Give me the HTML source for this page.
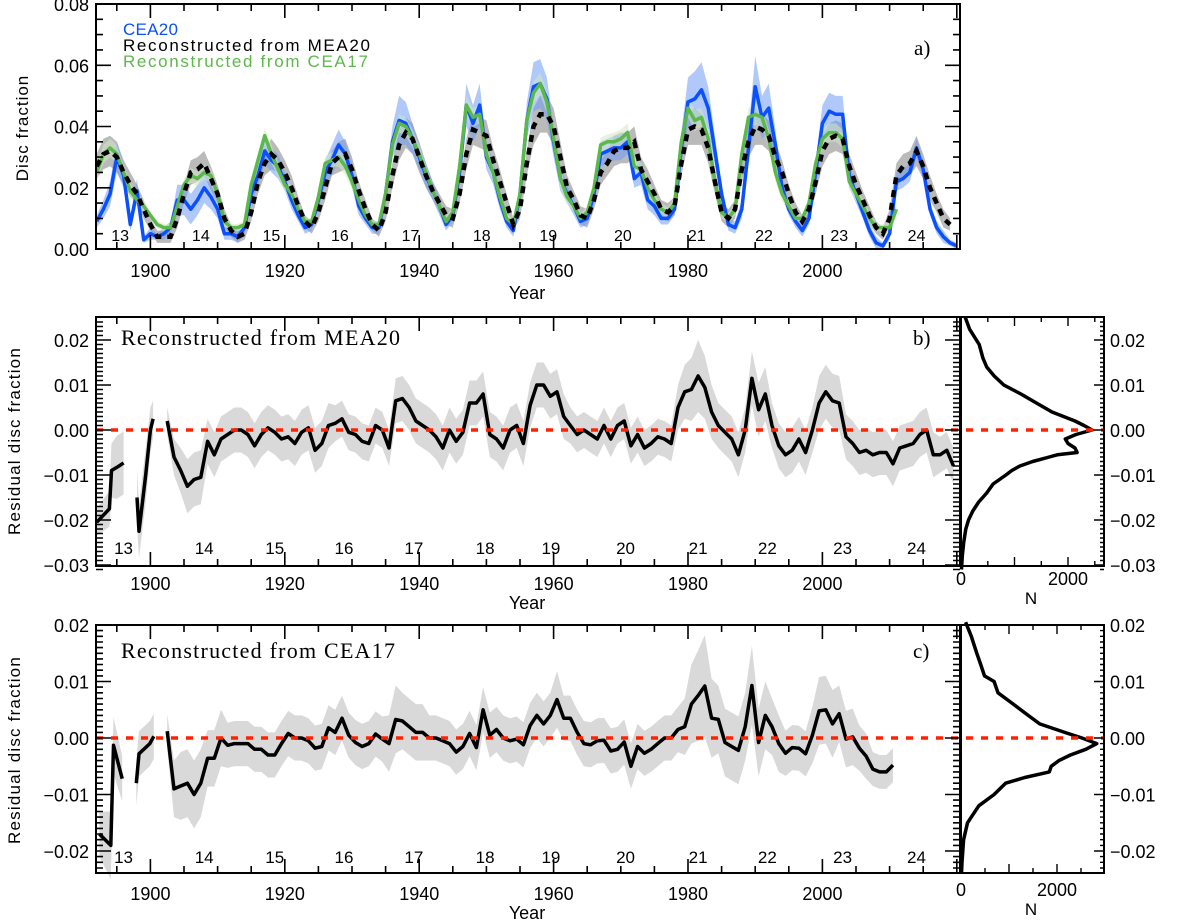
<!DOCTYPE html>
<html><head><meta charset="utf-8"><title>Disc fraction reconstruction</title>
<style>
html,body{margin:0;padding:0;background:#fff;}
svg{display:block;font-family:"Liberation Sans",sans-serif;}
.ser{font-family:"Liberation Serif",serif;}
</style></head>
<body>
<svg id="fig" width="1200" height="922" viewBox="0 0 1200 922" xmlns="http://www.w3.org/2000/svg"></svg>
<script>
// ---------- Panel a data (units of 1e-3 disc fraction) ----------
const aStartYear = 1892;
const cea20 = [9,13,18,30,24,8,19,3,5,4, 5,7,16,16,13,16,20,17,13,5, 5,4,7,18,24,32,29,27,22,16, 11,7,8,16,25,29,34,31,24,14,
 10,7,7,18,35,42,41,36,30,24, 19,14,8,11,25,47,41,47,30,25, 16,9,6,18,42,53,54,49,35,23, 18,14,9,10,18,31,32,33,33,35,
 23,25,16,14,10,10,13,33,48,49, 52,46,32,18,8,7,13,33,53,43, 46,34,20,13,9,6,10,25,41,45, 44,44,24,18,12,6,2,1,5,22, 23,25,33,26,13,7,4,2,1];
const cea20Err = [2,3,4,5,4,2,4,1,2,1, 2,2,5,5,5,5,5,4,3,2, 2,2,2,3,4,4,4,4,3,3, 2,2,2,3,4,5,5,4,4,3,
 2,2,2,3,5,8,7,5,4,4, 3,3,2,2,4,7,6,7,4,4, 3,2,2,3,6,8,8,7,5,4, 3,3,2,2,3,4,4,4,4,4,
 3,4,3,3,2,2,2,5,8,9, 9,7,5,3,2,2,3,6,10,7, 8,5,3,2,2,2,2,4,6,6, 6,6,4,3,2,2,2,1,2,3, 3,3,3,3,2,2,2,1,1];
const mea20 = [27,31,32,30,25,21,18,13,8,4, 4,4,10,18,25,26,28,23,18,10, 6,4,5,12,22,28,31,29,25,20, 14,9,7,12,20,28,30,31,26,19,
 13,8,6,12,24,34,38,36,30,24, 19,15,11,10,18,31,39,38,37,29, 22,15,8,13,28,40,44,44,40,30, 20,16,11,10,16,25,28,32,33,33,
 35,26,22,18,13,12,14,28,39,40, 39,33,22,12,10,13,26,35,40,39, 37,30,25,18,12,9,13,22,32,36, 37,36,27,21,16,11,7,5,10,24, 27,28,32,27,20,15,10,8];
const mea20Err = [4,5,5,5,4,4,3,3,2,2, 2,2,3,3,4,4,4,4,3,3, 2,2,2,3,4,4,5,4,4,4, 3,2,2,3,4,4,5,5,4,3,
 3,2,2,3,4,5,5,5,5,4, 3,3,3,3,3,5,5,5,5,4, 4,3,2,3,4,6,6,6,6,5, 4,3,3,3,3,4,4,5,5,5,
 5,4,4,3,3,3,3,4,5,6, 5,5,4,3,3,3,4,5,6,5, 5,5,4,3,3,2,3,4,5,5, 5,5,4,4,3,3,2,2,3,4, 4,4,5,4,4,3,3,2];
const cea17 = [25,31,33,31,25,19,16,14,11,8, 7,7,14,21,24,23,25,24,18,9, 7,7,8,21,29,37,31,26,21,18, 13,9,9,17,28,29,30,27,22,16,
 11,8,8,18,34,41,40,36,31,25, 19,14,9,12,27,47,43,44,31,25, 17,10,8,18,42,51,54,48,36,23, 17,14,10,12,20,34,35,35,36,38,
 27,26,20,16,13,12,15,35,46,42, 43,36,22,12,10,13,31,43,44,43, 36,25,18,14,10,10,15,28,36,38, 38,36,22,18,14,10,7,7,7,13];
const aYTicks = [0,20,40,60,80];
const aYTickLabels = ["0.00","0.02","0.04","0.06","0.08"];
const xTickYears = [1900,1920,1940,1960,1980,2000];
const cycleNames = ["13","14","15","16","17","18","19","20","21","22","23","24"];
const cycleYearsA = [1895.5,1907.5,1918,1928.2,1938.7,1949.3,1959.2,1970.3,1981.3,1991.3,2002.5,2014];
const cycleYearsB = [1896,1908,1918.5,1928.8,1939.2,1949.8,1959.6,1970.7,1981.5,1991.8,2003,2014];

// ---------- Panel b data (residual, 1e-3) ----------
const bSeg1Years = [1892,1893.9,1894.2,1895,1896];
const bSeg1Vals = [-20.5,-17.5,-9,-8.3,-7.3];
const bSeg1Err = [3,4,6,7,7];
const bSeg2Years = [1898,1898.3,1899.3,1900,1900.4];
const bSeg2Vals = [-15,-22.5,-10,0,2.5];
const bSeg2Err = [6,6,6,5,4];
const bSeg3Start = 1902.5;
const bSeg3Vals = [2,-6,-9,-12.5,-11,-10.5,-2.5,-5.5,-2,-1, 0,0,-1,-3.5,-1,0.5,-0.5,-2,-1.5,-3,
 -0.5,0.5,-4.5,-3,1,1.5,2.5,-0.5,-1,-2.5, -3,1,0,-4,6.5,7,5,2,1,0, -1.5,-4,0,-2.5,-0.5,6,6,8,-1,-2,
 -4,0,1,-3,5.5,10,10,7.5,8.5,3, 1,-1,0,-1,-2,
 1,-2,1,2,-3.5,-1,-4,-3,-1.5,-2, -3,5,8.5,9,12,9.5,4,1,-0.5,-2, -5.5,0,11.5,4.5,8,1,-3.5,-5.5,-4.5,-2,
 -5,0,6,8.5,6.5,6,-1.5,-3,-5,-4.5, -5.5,-5,-5,-7.5,-4,-3.5,-3,-1,0,-5.5, -5.5,-4.5,-8];
const bSeg3Err = [3,4,5,6,6,6,5,5,5,5, 5,5,5,5,5,5,5,5,5,5, 5,5,5,5,5,4,4,4,4,4, 4,4,4,4,5,5,5,5,5,5,
 5,5,5,5,5,5,5,5,5,5, 5,5,5,5,5,5,5,5,5,5, 4,4,4,4,4,
 4,4,4,4,4,4,4,4,4,4, 4,5,6,7,8,7,6,5,5,5, 5,5,6,6,6,5,5,5,5,5, 5,5,6,6,6,6,5,5,5,5, 5,5,5,5,5,5,5,5,5,5, 4,4,4];
const histBVals = [25,22.4,19,16,14,12,10,8,6,4,2,1,0,-1,-2,-3,-4,-5,-5.5,-6,-7,-8,-9,-10,-12,-14,-16,-18,-20,-22,-25,-28,-31];
const histBN = [80,160,340,410,480,620,800,1120,1410,1700,2130,2300,2450,2150,1950,2000,2130,2170,1800,1650,1340,1100,950,840,600,480,330,220,140,90,50,25,10];
const bYTicks = [20,10,0,-10,-20,-30];
const bYTickLabels = ["0.02","0.01","0.00","\u22120.01","\u22120.02","\u22120.03"];

// ---------- Panel c data (residual, 1e-3) ----------
const cSeg1Years = [1892.4,1894.1,1894.5,1895.8];
const cSeg1Vals = [-17,-19,-1.3,-7.2];
const cSeg1Err = [4,6,5,4];
const cSeg2Years = [1897.9,1898.3,1899.9,1900.5];
const cSeg2Vals = [-8,-2.8,-1,0.3];
const cSeg2Err = [4,4,4,4];
const cSeg3Start = 1902.5;
const cSeg3Vals = [1.2,-9,-8.5,-8,-10,-8,-3.6,-3.6,0,-1.3, -1,-1,-1,-2,-2,-3,-3,-1,0.8,0,
 0,-0.5,-1.8,-1.5,1.8,1,3.5,0.5,-0.8,-1.5, -1,0.7,-0.2,-1,3.3,3,2,1,1,0, 0,-0.5,-1,-2.5,-1.5,0.8,-1.7,5,0.5,1.5,
 0,-0.5,-0.2,-1.2,2.2,4,2.5,4,6.8,3.5, 3.5,1,-1,-1.2,-0.5,-0.4,-2.3,-2,-0.7,-5, -1.5,-2.7,-2,-1,0,0,1.5,2,6,7.5,
 9.2,3.5,3.3,-0.8,-1.5,-2.2,2,9.3,-0.8,4, 2,-1,-2.7,-1.7,-1.8,-2.8,0.5,4.8,5,2.5, 4.3,-0.2,0.2,-1.8,-3.2,-5.5,-6,-6,-4.8];
const cSeg3Err = [3,5,6,6,6,6,5,5,5,4, 4,4,4,4,4,4,4,4,4,4, 4,4,4,4,4,4,4,4,4,4, 4,4,4,5,6,5,5,5,5,4,
 4,4,4,4,4,4,4,4,4,4, 4,4,4,4,4,4,4,4,5,4, 4,4,4,4,4,4,4,4,4,4, 4,4,4,4,4,4,4,5,7,8,
 9,7,6,6,6,6,6,7,6,6, 5,5,4,4,4,4,5,6,6,6, 5,5,5,4,4,3,3,3,3];
const histCVals = [20.5,18,15,13,11,10,8,6,4,2.5,1,0,-1,-2,-3,-4,-5,-6,-7,-8,-10,-12,-15,-18,-22,-24];
const histCN = [95,215,330,410,490,690,770,1090,1400,1640,2160,2520,2830,2600,2280,2040,1880,1840,1330,930,690,370,135,55,20,10];
const cYTicks = [20,10,0,-10,-20];
const cYTickLabels = ["0.02","0.01","0.00","\u22120.01","\u22120.02"];
const histTicks = [0,2000];
const histTickLabels = ["0","2000"];

// ---------- scales ----------
const X = y => 96 + (y - 1891.9) * 6.72;
const YA = v => 249 - v * 3.0625;
const YB = v => 430 - v * 4.5;
const YC = v => 738 - v * 5.65;
const HB = n => 961 + n * 0.0535;
const HC = n => 961 + n * 0.048;

const NS = "http://www.w3.org/2000/svg";
const svg = document.getElementById('fig');
function mk(tag, attrs, parent) {
  const e = document.createElementNS(NS, tag);
  for (const k in attrs) e.setAttribute(k, attrs[k]);
  (parent || svg).appendChild(e);
  return e;
}
function linePath(xs, ys) {
  let d = "";
  for (let i = 0; i < xs.length; i++) d += (i ? "L" : "M") + xs[i].toFixed(1) + "," + ys[i].toFixed(1);
  return d;
}
function bandPath(xs, lo, hi) {
  let d = "";
  for (let i = 0; i < xs.length; i++) d += (i ? "L" : "M") + xs[i].toFixed(1) + "," + hi[i].toFixed(1);
  for (let i = xs.length - 1; i >= 0; i--) d += "L" + xs[i].toFixed(1) + "," + lo[i].toFixed(1);
  return d + "Z";
}
function seqYears(start, n) { const r = []; for (let i = 0; i < n; i++) r.push(start + i); return r; }
function txt(x, y, s, size, anchor, fill, cls, parent) {
  const t = mk('text', {x: x, y: y, 'font-size': size, 'text-anchor': anchor || 'start', fill: fill || '#000'}, parent);
  if (cls) t.setAttribute('class', cls);
  t.textContent = s;
  return t;
}

// ======================= PANEL A =======================
const gA = mk('g', {});


const aYearsBlue = seqYears(aStartYear, cea20.length);
const aYearsBlack = seqYears(aStartYear, mea20.length);
const aYearsGreen = seqYears(aStartYear, cea17.length);

const gBand = mk('path', {d: bandPath(aYearsBlack.map(X), mea20.map((v,i)=>YA(v-mea20Err[i])), mea20.map((v,i)=>YA(v+mea20Err[i]))), fill: '#8c8c8c', 'fill-opacity': 0.6}, gA);


const bBand = mk('path', {d: bandPath(aYearsBlue.map(X), cea20.map((v,i)=>YA(v-cea20Err[i])), cea20.map((v,i)=>YA(v+cea20Err[i]))), fill: '#6f9cf5', 'fill-opacity': 0.55}, gA);


const grBand = mk('path', {d: bandPath(aYearsGreen.map(X), cea17.map((v,i)=>YA(v-mea20Err[i]*0.6)), cea17.map((v,i)=>YA(v+mea20Err[i]*0.6))), fill: '#cfe8c6', 'fill-opacity': 0.55}, gA);



const blueLine = mk('path', {d: linePath(aYearsBlue.map(X), cea20.map(YA)), fill: 'none', stroke: '#0a50ff', 'stroke-width': 3.5, 'stroke-linejoin': 'round'}, gA);


const greenLine = mk('path', {d: linePath(aYearsGreen.map(X), cea17.map(YA)), fill: 'none', stroke: '#5cb84a', 'stroke-width': 3.5, 'stroke-linejoin': 'round'}, gA);


const blackLine = mk('path', {d: linePath(aYearsBlack.map(X), mea20.map(YA)), fill: 'none', stroke: '#000', 'stroke-width': 4.5, 'stroke-dasharray': '7 6'}, gA);



// ======================= PANEL B & C residual drawing =======================
function residualPanel(g, segs, fy, bandName, lineName) {
  segs.forEach((s, k) => {
    const xs = s.years.map(X);
    const band = mk('path', {d: bandPath(xs, s.vals.map((v,i)=>fy(v-s.err[i])), s.vals.map((v,i)=>fy(v+s.err[i]))), fill: '#d9d9d9'}, g);
    
    
  });
  segs.forEach((s, k) => {
    const ln = mk('path', {d: linePath(s.years.map(X), s.vals.map(fy)), fill: 'none', stroke: '#000', 'stroke-width': 3.5, 'stroke-linejoin': 'round'}, g);
    
    
  });
}
const gB = mk('g', {});


residualPanel(gB, [
  {years: bSeg1Years, vals: bSeg1Vals, err: bSeg1Err},
  {years: bSeg2Years, vals: bSeg2Vals, err: bSeg2Err},
  {years: seqYears(bSeg3Start, bSeg3Vals.length), vals: bSeg3Vals, err: bSeg3Err}
], YB, 'mea20-residual-band', 'mea20-residual-line');

const gC = mk('g', {});


residualPanel(gC, [
  {years: cSeg1Years, vals: cSeg1Vals, err: cSeg1Err},
  {years: cSeg2Years, vals: cSeg2Vals, err: cSeg2Err},
  {years: seqYears(cSeg3Start, cSeg3Vals.length), vals: cSeg3Vals, err: cSeg3Err}
], YC, 'cea17-residual-band', 'cea17-residual-line');

// histograms
const hbLine = mk('path', {d: linePath(histBN.map(HB), histBVals.map(YB)), fill: 'none', stroke: '#000', 'stroke-width': 3.5, 'stroke-linejoin': 'round'});


const hcLine = mk('path', {d: linePath(histCN.map(HC), histCVals.map(YC)), fill: 'none', stroke: '#000', 'stroke-width': 3.5, 'stroke-linejoin': 'round'});



// zero lines
const z1 = mk('line', {x1: 96, x2: 1104, y1: YB(0), y2: YB(0), stroke: '#ff2200', 'stroke-width': 3.5, 'stroke-dasharray': '7 8'});


const z2 = mk('line', {x1: 96, x2: 1104, y1: YC(0), y2: YC(0), stroke: '#ff2200', 'stroke-width': 3.5, 'stroke-dasharray': '7 8'});



// ======================= AXES =======================
function frame(x1, y1, x2, y2, name) {
  const r = mk('rect', {x: x1, y: y1, width: x2-x1, height: y2-y1, fill: 'none', stroke: '#000', 'stroke-width': 2});
  
  
}
function ticksPath(arr) { return arr.join(''); }
function xTicks(top, bot) {
  const p = [];
  for (let y = 1895; y <= 2020; y += 5) {
    const L = (y % 20 === 0) ? 14 : 7, x = X(y).toFixed(1);
    p.push(`M${x},${bot}v${-L}M${x},${top}v${L}`);
  }
  const t = mk('path', {d: ticksPath(p), stroke: '#000', 'stroke-width': 1.6, fill: 'none'});
  
  
}
function xLabels(yLab, yTitle) {
  xTickYears.forEach(yr => {
    const t = txt(X(yr), yLab, String(yr), 18, 'middle');
    
    
  });
  const t = txt(527, yTitle, 'Year', 18, 'middle');
  
  
}
function yTicks(fy, lo, hi, minorStep, majorStep, xl, xr) {
  const p = [];
  for (let v = lo; v <= hi + 1e-9; v += minorStep) {
    const isMaj = Math.abs(v / majorStep - Math.round(v / majorStep)) < 1e-6;
    const L = isMaj ? 15 : 7, y = fy(v).toFixed(1);
    p.push(`M${xl},${y}h${L}M${xr},${y}h${-L}`);
  }
  const t = mk('path', {d: ticksPath(p), stroke: '#000', 'stroke-width': 1.6, fill: 'none'});
  
  
}

// panel a axes
frame(96, 4, 960, 249, 'panel-a-frame');
xTicks(4, 249);
yTicks(YA, 0, 80, 5, 20, 96, 960);
aYTicks.forEach((v, i) => {
  const t = txt(89, YA(v) + 7, aYTickLabels[i], 18, 'end');
  
  
});
xLabels(277, 299);
{
  const t = txt(0, 0, 'Disc fraction', 17, 'middle');
  t.setAttribute('transform', 'translate(28,128) rotate(-90)');
  t.setAttribute('letter-spacing', '1');
  
  
}
cycleNames.forEach((c, i) => {
  const t = txt(X(cycleYearsA[i]), 241, c, 16, 'middle');
  
  
});
{
  const l1 = txt(123, 35, 'CEA20', 17, 'start', '#0a50ff');
  l1.setAttribute('textLength', '55');
  
  
  const l2 = txt(123, 51, 'Reconstructed from MEA20', 17, 'start', '#000');
  l2.setAttribute('textLength', '247');
  
  
  const l3 = txt(123, 67, 'Reconstructed from CEA17', 17, 'start', '#5cb84a');
  l3.setAttribute('textLength', '245');
  
  
  const pa = txt(914, 55, 'a)', 21, 'start', '#000', 'ser');
  
  
}

// panel b axes
frame(96, 317, 960, 566, 'panel-b-frame');
frame(961, 317, 1104, 566, 'histogram-b-frame');
xTicks(317, 566);
yTicks(YB, -31, 24, 1, 10, 96, 960);
function histAxes(fy, fn, top, bot, lo, hi, labelsY, nTitleY, rightTicks, rightLabels, name) {
  const p = [];
  for (let n = 0; n <= 2900; n += 500) {
    const x = fn(n); if (x > 1103) continue;
    const L = (n % 1000 === 0) ? 9 : 5;
    p.push(`M${x.toFixed(1)},${bot}v${-L}M${x.toFixed(1)},${top}v${L}`);
  }
  for (let v = lo; v <= hi + 1e-9; v += 1) {
    const isMaj = Math.abs(v / 10 - Math.round(v / 10)) < 1e-6;
    p.push(`M1104,${fy(v).toFixed(1)}h${isMaj ? -10 : -4}`);
  }
  const t = mk('path', {d: p.join(''), stroke: '#000', 'stroke-width': 1.4, fill: 'none'});
  
  
  histTicks.forEach((n, i) => {
    const l = txt(fn(n), labelsY, histTickLabels[i], 18, 'middle');
    
    
  });
  const nt = txt(1031, nTitleY, 'N', 17, 'middle');
  
  
  rightTicks.forEach((v, i) => {
    const l = txt(1110, fy(v) + 7, rightLabels[i], 18, 'start');
    
    
  });
}
histAxes(YB, HB, 317, 566, -31, 24, 585, 604, bYTicks, bYTickLabels, 'histogram-b');
bYTicks.forEach((v, i) => {
  const t = txt(89, YB(v) + 7, bYTickLabels[i], 18, 'end');
  
  
});
xLabels(590, 609);
{
  const t = txt(0, 0, 'Residual disc fraction', 17, 'middle');
  t.setAttribute('transform', 'translate(20,441) rotate(-90)');
  t.setAttribute('letter-spacing', '1.2');
  
  
  const h = txt(121, 345, 'Reconstructed from MEA20', 22, 'start', '#000', 'ser');
  h.setAttribute('textLength', '279');
  
  
  const pb = txt(913, 345, 'b)', 21, 'start', '#000', 'ser');
  
  
}
cycleNames.forEach((c, i) => {
  const t = txt(X(cycleYearsB[i]), 554, c, 17, 'middle');
  
  
});

// panel c axes
frame(96, 625, 960, 873, 'panel-c-frame');
frame(961, 625, 1104, 873, 'histogram-c-frame');
xTicks(625, 873);
yTicks(YC, -23, 20, 1, 10, 96, 960);
histAxes(YC, HC, 625, 873, -23, 20, 896, 915, cYTicks, cYTickLabels, 'histogram-c');
cYTicks.forEach((v, i) => {
  const t = txt(89, YC(v) + 7, cYTickLabels[i], 18, 'end');
  
  
});
xLabels(900, 919);
{
  const t = txt(0, 0, 'Residual disc fraction', 17, 'middle');
  t.setAttribute('transform', 'translate(20,750) rotate(-90)');
  t.setAttribute('letter-spacing', '1.2');
  
  
  const h = txt(121, 658, 'Reconstructed from CEA17', 22, 'start', '#000', 'ser');
  h.setAttribute('textLength', '274');
  
  
  const pc = txt(913, 658, 'c)', 21, 'start', '#000', 'ser');
  
  
}
cycleNames.forEach((c, i) => {
  const t = txt(X(cycleYearsB[i]), 863, c, 17, 'middle');
  
  
});
</script>
</body></html>
